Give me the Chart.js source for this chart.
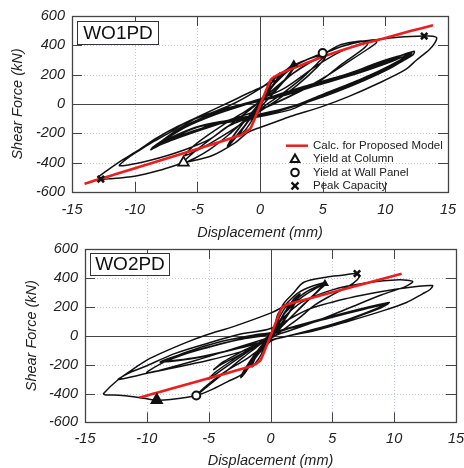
<!DOCTYPE html>
<html>
<head>
<meta charset="utf-8">
<script src="https://cdn.jsdelivr.net/npm/chart.js@4.4.1/dist/chart.umd.min.js"></script>
<style>
  html, body { margin: 0; padding: 0; background: #fff; }
  #wrap { position: relative; width: 464px; height: 468px; overflow: hidden; }
  canvas { position: absolute; left: 0; }
</style>
</head>
<body>
<div id="wrap">
  <canvas id="cTop" width="464" height="240" style="top:0"></canvas>
  <canvas id="cBot" width="464" height="228" style="top:240px"></canvas>
</div>
<script>
// axes
const xTicks = [-15, -10, -5, 0, 5, 10, 15];
const yTicks = [-600, -400, -200, 0, 200, 400, 600];

// WO1PD : measured hysteresis (mm, kN)
const wo1Curve = [
  [0, 0], [0.4, 70], [0.8, 125], [0.6, 90], [0.2, 25], [-0.3, -55], [-0.7, -115], [-0.5, -80], [-0.1, -15],
  [0.5, 85], [1.1, 165], [1.6, 212], [1.2, 150], [0.5, 55], [0, -15], [-0.6, -105], [-1.1, -170], [-1.6, -210], [-1.2, -145], [-0.4, -45],
  [0.4, 60], [1.4, 170], [2.2, 240], [2.8, 275], [2.4, 215], [1.5, 115], [0.5, 20], [-0.6, -80], [-1.5, -185], [-2.2, -255], [-2.6, -290], [-2.2, -230], [-1.3, -125], [-0.3, -20],
  [0.8, 100], [1.8, 200], [2.5, 250], [2.8, 262], [2.3, 195], [1.2, 85], [0, -25], [-1.2, -145], [-2.1, -240], [-2.5, -275], [-2, -200], [-1, -95], [0, 0],
  [1.2, 140], [2.6, 250], [3.8, 305], [5, 345], [5.3, 340], [4.6, 280], [3.4, 180], [2, 85], [0.5, -5], [-1, -95], [-2.5, -210], [-4, -310], [-5.2, -370], [-6.1, -400], [-5.3, -330], [-3.8, -230], [-2.2, -130], [-0.6, -25],
  [1, 95], [2.5, 200], [4, 285], [5.2, 320], [4.6, 255], [3, 130], [1.5, 35], [0, -50], [-2, -165], [-4, -270], [-5.5, -335], [-6, -350], [-5, -265], [-3, -145], [-1, -40],
  [1, 80], [2.5, 200], [4.5, 310], [6.3, 400], [7.6, 425], [8.3, 428], [8.6, 410], [8, 360], [6.5, 270], [5, 170], [2.4, 52], [0, -40], [-2.5, -110], [-5, -175], [-7.3, -250], [-8.7, -310], [-8, -265], [-6.5, -175], [-4.5, -90], [-2, -15], [0, 35],
  [2, 110], [4.5, 260], [6.5, 360], [8.2, 415], [9.2, 435], [9.3, 420], [8.6, 375], [7, 285], [5, 175], [3, 80], [0.5, -20], [-2, -100], [-4.5, -170], [-7, -245], [-8.6, -300], [-7.8, -250], [-6, -160], [-3.5, -70], [-1, 0],
  [1, 52], [3.5, 120], [6.3, 188], [8.5, 250], [10.3, 302], [12.3, 359], [12.2, 335], [11.5, 300], [10.3, 240], [8.3, 160], [6.3, 90], [4, 20], [2.4, -40], [0, -85], [-2.5, -125], [-5, -158], [-7.3, -245], [-8.7, -312], [-8.2, -275], [-6.5, -170], [-5, -95], [-2.5, -25], [0, 25],
  [3, 100], [6.3, 180], [9, 270], [11, 325], [12.1, 348], [11.8, 320], [10.5, 255], [8.5, 170], [6, 80], [3.5, 5], [1, -60], [-1.5, -105], [-4, -150], [-6.5, -220], [-8.5, -300], [-8, -268], [-6.5, -180], [-4.5, -95], [-2, -20], [0, 20],
  [3, 90], [6, 165], [8.5, 240], [10.5, 300], [11.5, 322], [11.2, 300], [9.5, 225], [7, 130], [4.5, 40], [2, -35], [0, -75], [-3, -120], [-5.5, -170], [-7.5, -245], [-8.4, -290], [-7.8, -255], [-6, -160], [-3.5, -60], [-1, 5],
  [2.5, 80], [5.5, 150], [8.5, 230], [10.8, 300], [12, 340], [11.7, 315], [10.2, 245], [7.8, 150], [5.2, 60], [2.8, -10], [0.5, -60], [-2.5, -110], [-5.2, -160], [-7.2, -235], [-8.6, -305], [-8, -262], [-6.2, -165], [-3.8, -70], [-1.2, 0],
  [2, 60], [5, 140], [8, 215], [10.5, 290], [11.8, 335], [11.5, 310], [10, 240], [7.5, 150], [5, 65], [2.5, -20], [0, -70], [-2.5, -150], [-4, -240], [-6, -312], [-8.6, -380], [-11.2, -421], [-10.5, -365], [-9.5, -310], [-8.6, -262], [-7, -185], [-6, -130], [-3.9, -61], [-2, 7], [0, 105],
  [1.2, 180], [2.8, 270], [5, 340], [6.5, 392], [8.3, 430], [9.6, 442], [11, 455], [12, 461], [13.1, 463], [13.8, 462], [14.1, 450], [13.9, 410], [13.5, 370], [12.5, 300], [11.6, 234], [9.5, 143], [7.1, 52], [5, -16], [2.4, -85], [1, -130], [0, -160], [-1, -195], [-2, -265], [-3.9, -355], [-6.1, -402], [-8, -452], [-10, -492], [-12, -510], [-12.7, -512], [-12.9, -500],
  [-12.3, -460], [-11.3, -400], [-9.8, -320], [-8.2, -230], [-6.5, -150], [-4.5, -70], [-2.5, 10], [-0.8, 80], [0.5, 130], [1.5, 170]
];
const wo1Model = [[-14, -544], [-1.6, -215], [-0.74, -163], [0.85, 165], [1.77, 214], [3, 255], [5, 322], [8, 405], [10, 450], [12, 497], [13.8, 537]];
const wo1ColYield = [[-6.1, -400], [2.7, 272]];
const wo1WallYield = [[5, 347]];
const wo1Peak = [[13.1, 463], [-12.7, -512]];

// WO2PD : measured hysteresis (mm, kN)
const wo2Curve = [
  [0, 0], [0.3, 60], [0.7, 125], [0.5, 85], [0.1, 15], [-0.3, -55], [-0.7, -120], [-0.5, -80], [-0.1, -10],
  [0.5, 90], [1, 170], [1.5, 225], [1.2, 165], [0.5, 60], [0, -10], [-0.5, -90], [-1, -165], [-1.5, -215], [-1.2, -150], [-0.4, -40],
  [0.5, 70], [1.3, 180], [1.9, 255], [2.4, 290], [2.1, 240], [1.3, 130], [0.4, 20], [-0.6, -80], [-1.4, -170], [-2, -250], [-2.4, -290], [-2.1, -235], [-1.2, -120], [-0.2, -10],
  [0.8, 110], [1.7, 225], [2.3, 275], [1.9, 215], [1, 100], [0, -15], [-1, -120], [-1.9, -225], [-2.3, -270], [-1.8, -200], [-0.8, -80], [0.2, 20],
  [0.6, 150], [1.5, 240], [2.3, 300], [3.3, 340], [4.3, 365], [4.2, 340], [3.6, 290], [2.5, 200], [1.2, 90], [0, 0], [-1, -70], [-2.2, -150], [-3.5, -240], [-4.8, -330], [-6, -414], [-5.4, -362], [-3.9, -262], [-1.7, -146], [0, -20],
  [1.2, 170], [2.5, 280], [3.5, 330], [4.4, 355], [4, 320], [3, 240], [1.8, 140], [0.5, 40], [-1, -60], [-2.5, -150], [-4, -240], [-5, -300], [-4.5, -255], [-3, -165], [-1.5, -80], [0, 10],
  [1.2, 160], [2.6, 270], [4.2, 350], [3.8, 310], [2.6, 210], [1, 70], [0, -10], [-2, -110], [-4, -200], [-4.6, -235], [-3.8, -180], [-2, -95], [0, 0],
  [1, 213], [1.8, 290], [2.7, 370], [4.5, 405], [5.8, 418], [7, 430], [7.2, 410], [6.7, 364], [5, 283], [3.6, 213], [2.3, 121], [1, 40], [0, -20], [-2, -100], [-5, -170], [-8, -225], [-10, -257], [-9, -200], [-7, -120], [-4, -40], [-1, 10], [0, 20],
  [2, 65], [5, 135], [7.5, 190], [9.4, 225], [8.8, 195], [6.5, 120], [4, 55], [1.5, 0], [0, -30], [-3, -95], [-6, -150], [-8.9, -183], [-8, -150], [-6, -100], [-3.5, -45], [-1, 0], [0, 15],
  [2.5, 75], [5.5, 145], [8, 200], [9.6, 230], [9, 200], [6.5, 115], [3.5, 40], [1, -10], [-2, -70], [-5, -135], [-8.5, -175], [-7.5, -140], [-5, -80], [-2.5, -25], [0, 20],
  [2, 60], [5, 128], [7.5, 182], [9.2, 215], [8.5, 185], [6, 105], [3, 30], [0.5, -20], [-2.5, -85], [-5.5, -145], [-8.7, -180], [-7.8, -148], [-5.5, -90], [-3, -35], [0, 10],
  [2.2, 70], [5.2, 140], [7.8, 195], [9.5, 222], [8.9, 192], [6.2, 110], [3.2, 35], [0.8, -15], [-2.2, -80], [-5.2, -140], [-8.2, -172], [-7.2, -135], [-4.8, -75], [-2.2, -20], [0, 15],
  [1, 120], [2.5, 230], [5, 317], [7.7, 364], [10.4, 387], [11.5, 375], [10.9, 340], [9, 283], [6.3, 190], [3.6, 97], [1, 20], [0, -10], [-3, -90], [-6, -170], [-9, -240], [-12.3, -303], [-11.5, -260], [-10.2, -215], [-7.7, -122], [-5, -50], [-2.5, 10], [0, 50],
  [3, 180], [6.3, 260], [9, 306], [11.8, 340], [13.1, 347], [12.9, 320], [12.3, 290], [11, 230], [9, 170], [6.3, 100], [3.6, 35], [1, -10], [0, -40], [-1, -130], [-2.2, -261], [-3.5, -319], [-4.85, -377], [-6, -414], [-8.1, -442], [-9.2, -447], [-10.65, -427], [-12, -413], [-13.4, -408], [-13.5, -400],
  [-12.3, -303], [-11, -225], [-9.75, -157], [-7, -53], [-5.2, 5], [-3, 63], [0, 156], [0.8, 190], [1.2, 215]
];
const wo2Model = [[-10.6, -428], [-1.5, -210], [-0.8, -169], [0.9, 190], [1.4, 218], [10.6, 428]];
const wo2ColYield = [[-9.2, -445], [4.4, 360]];
const wo2WallYield = [[-6, -414]];
const wo2Peak = [[7, 430]];

const legendLabels = ["Calc. for Proposed Model", "Yield at Column", "Yield at Wall Panel", "Peak Capacity"];

Chart.defaults.font.family = '"Liberation Sans", Arial, sans-serif';
Chart.defaults.color = "#222";

const tickFont = { size: 14.5, style: "italic" };
const titleFont = { size: 14.5, style: "italic", lineHeight: 1 };

function pts(list) {
  return list.map(([x, y]) => ({ x, y }));
}

function line(ctx, x1, y1, x2, y2) {
  ctx.beginPath();
  ctx.moveTo(x1, y1);
  ctx.lineTo(x2, y2);
  ctx.stroke();
}

// small marker shapes for the legend
function drawTriangle(ctx, x, y, r, fill) {
  ctx.beginPath();
  ctx.moveTo(x, y - r);
  ctx.lineTo(x + r * 0.866, y + r * 0.5);
  ctx.lineTo(x - r * 0.866, y + r * 0.5);
  ctx.closePath();
  if (fill) { ctx.fillStyle = "#111"; ctx.fill(); }
  ctx.stroke();
}

// dotted grid, zero lines, frame and inward ticks
const framePlugin = {
  id: "frame",
  beforeDatasetsDraw(chart) {
    const { ctx, chartArea: a, scales: { x, y } } = chart;
    ctx.save();
    ctx.lineWidth = 1;
    ctx.strokeStyle = "#c3c3f0";
    ctx.setLineDash([1, 2]);
    xTicks.forEach(v => {
      if (v === 0 || v === xTicks[0] || v === xTicks[xTicks.length - 1]) return;
      const px = Math.round(x.getPixelForValue(v)) + 0.5;
      line(ctx, px, a.top, px, a.bottom);
    });
    yTicks.forEach(v => {
      if (v === 0 || v === yTicks[0] || v === yTicks[yTicks.length - 1]) return;
      const py = Math.round(y.getPixelForValue(v)) + 0.5;
      line(ctx, a.left, py, a.right, py);
    });
    ctx.setLineDash([]);
    ctx.strokeStyle = "#444";
    const x0 = Math.round(x.getPixelForValue(0)) + 0.5;
    const y0 = Math.round(y.getPixelForValue(0)) + 0.5;
    line(ctx, x0, a.top, x0, a.bottom);
    line(ctx, a.left, y0, a.right, y0);
    ctx.restore();
  },
  afterDatasetsDraw(chart) {
    const { ctx, chartArea: a, scales: { x, y } } = chart;
    const tl = 10;
    ctx.save();
    ctx.strokeStyle = "#444";
    ctx.lineWidth = 1;
    xTicks.slice(1, -1).forEach(v => {
      const px = Math.round(x.getPixelForValue(v)) + 0.5;
      line(ctx, px, a.top, px, a.top + tl);
      line(ctx, px, a.bottom, px, a.bottom - tl);
    });
    yTicks.slice(1, -1).forEach(v => {
      const py = Math.round(y.getPixelForValue(v)) + 0.5;
      line(ctx, a.left, py, a.left + tl, py);
      line(ctx, a.right, py, a.right - tl, py);
    });
    ctx.lineWidth = 1.3;
    ctx.strokeRect(Math.round(a.left) + 0.5, Math.round(a.top) + 0.5, Math.round(a.right - a.left), Math.round(a.bottom - a.top));
    ctx.restore();
  },
  afterDraw(chart) {
    const { ctx } = chart;
    const o = chart.options.plugins.frame;
    ctx.save();
    // specimen name box
    const b = o.box;
    ctx.fillStyle = "#fff";
    ctx.fillRect(b.x, b.y, b.w, b.h);
    ctx.strokeStyle = "#333";
    ctx.lineWidth = 1;
    ctx.strokeRect(b.x + 0.5, b.y + 0.5, b.w, b.h);
    ctx.fillStyle = "#111";
    ctx.font = '19px "Liberation Sans", Arial, sans-serif';
    ctx.textAlign = "center";
    ctx.textBaseline = "middle";
    ctx.fillText(o.name, b.x + b.w / 2 + 0.5, b.y + b.h / 2 + 1);

    if (o.legend) {
      const L = o.legend;
      ctx.font = '11.5px "Liberation Sans", Arial, sans-serif';
      ctx.textAlign = "left";
      legendLabels.forEach((txt, i) => {
        const yy = L.y + i * L.gap;
        ctx.fillStyle = "#222";
        ctx.fillText(txt, L.textX, yy);
        ctx.strokeStyle = "#111";
        ctx.lineWidth = 2;
        if (i === 0) {
          ctx.strokeStyle = "#ee1c1c";
          ctx.lineWidth = 2.5;
          line(ctx, L.markX - 9, yy, L.markX + 13, yy);
        } else if (i === 1) {
          drawTriangle(ctx, L.markX, yy + 0.5, 5, false);
        } else if (i === 2) {
          ctx.beginPath();
          ctx.arc(L.markX, yy, 3.8, 0, Math.PI * 2);
          ctx.stroke();
        } else {
          ctx.lineWidth = 2.3;
          line(ctx, L.markX - 3.5, yy - 3.5, L.markX + 3.5, yy + 3.5);
          line(ctx, L.markX - 3.5, yy + 3.5, L.markX + 3.5, yy - 3.5);
        }
      });
    }
    ctx.restore();
  }
};

function buildChart(id, set) {
  const canvas = document.getElementById(id);
  const area = set.area;
  return new Chart(canvas, {
    type: "scatter",
    data: {
      datasets: [
        {
          data: pts(set.peak), pointStyle: "crossRot", pointRadius: 4.5,
          borderColor: "#111", pointBorderWidth: 2.6, order: 0
        },
        {
          data: pts(set.wall), pointStyle: "circle", pointRadius: 4,
          borderColor: "#111", backgroundColor: "#fff", pointBorderWidth: 2, order: 0
        },
        {
          data: pts(set.col), pointStyle: "triangle",
          pointRadius: c => (c.dataIndex === 0 ? 6 : 3),
          borderColor: "#111",
          backgroundColor: c => (set.colFilled || c.dataIndex > 0 ? "#111" : "#fff"),
          pointBorderWidth: 1.8, order: 0
        },
        {
          data: pts(set.model), showLine: true, pointRadius: 0,
          borderColor: "#ee1c1c", borderWidth: 2.6, tension: 0.15, order: 1
        },
        {
          data: pts(set.curve), showLine: true, pointRadius: 0,
          borderColor: "#111", borderWidth: 1.5, tension: 0.3, order: 2
        }
      ]
    },
    options: {
      responsive: false,
      animation: false,
      devicePixelRatio: 1,
      events: [],
      layout: { padding: { top: area.top, right: canvas.width - area.right, left: 0, bottom: 0 } },
      plugins: {
        legend: { display: false },
        tooltip: { enabled: false },
        frame: { name: set.name, box: set.box, legend: set.legend }
      },
      scales: {
        x: {
          type: "linear", min: -15, max: 15,
          afterBuildTicks: s => { s.ticks = xTicks.map(v => ({ value: v })); },
          afterFit: s => { s.height = canvas.height - area.bottom; s.paddingLeft = 0; s.paddingRight = 0; },
          grid: { display: false, drawTicks: false }, border: { display: false },
          ticks: { font: tickFont, color: "#222", padding: set.xPad, autoSkip: false, maxRotation: 0 },
          title: { display: true, text: "Displacement (mm)", font: titleFont, color: "#222", padding: { top: 0, bottom: set.xTitlePad } }
        },
        y: {
          type: "linear", min: -600, max: 600,
          afterBuildTicks: s => { s.ticks = yTicks.map(v => ({ value: v })); },
          afterFit: s => { s.width = area.left; s.paddingTop = 0; s.paddingBottom = 0; },
          grid: { display: false, drawTicks: false }, border: { display: false },
          ticks: { font: tickFont, color: "#222", padding: 7, autoSkip: false },
          title: { display: true, text: "Shear Force (kN)", font: titleFont, color: "#222", padding: { top: set.yTitlePad, bottom: 0 } }
        }
      }
    },
    plugins: [framePlugin]
  });
}

buildChart("cTop", {
  name: "WO1PD",
  curve: wo1Curve, model: wo1Model, col: wo1ColYield, wall: wo1WallYield, peak: wo1Peak,
  colFilled: false,
  area: { left: 72, right: 448, top: 16, bottom: 192 },
  box: { x: 77, y: 21, w: 81, h: 23 },
  legend: { y: 145.7, gap: 13.4, markX: 295, textX: 313 },
  xPad: 9, xTitlePad: 0, yTitlePad: 10.75
});

buildChart("cBot", {
  name: "WO2PD",
  curve: wo2Curve, model: wo2Model, col: wo2ColYield, wall: wo2WallYield, peak: wo2Peak,
  colFilled: true,
  area: { left: 85, right: 456, top: 9, bottom: 182.4 },
  box: { x: 90, y: 13, w: 79, h: 22 },
  legend: null,
  xPad: 8, xTitlePad: 0, yTitlePad: 24.5
});
</script>
</body>
</html>
